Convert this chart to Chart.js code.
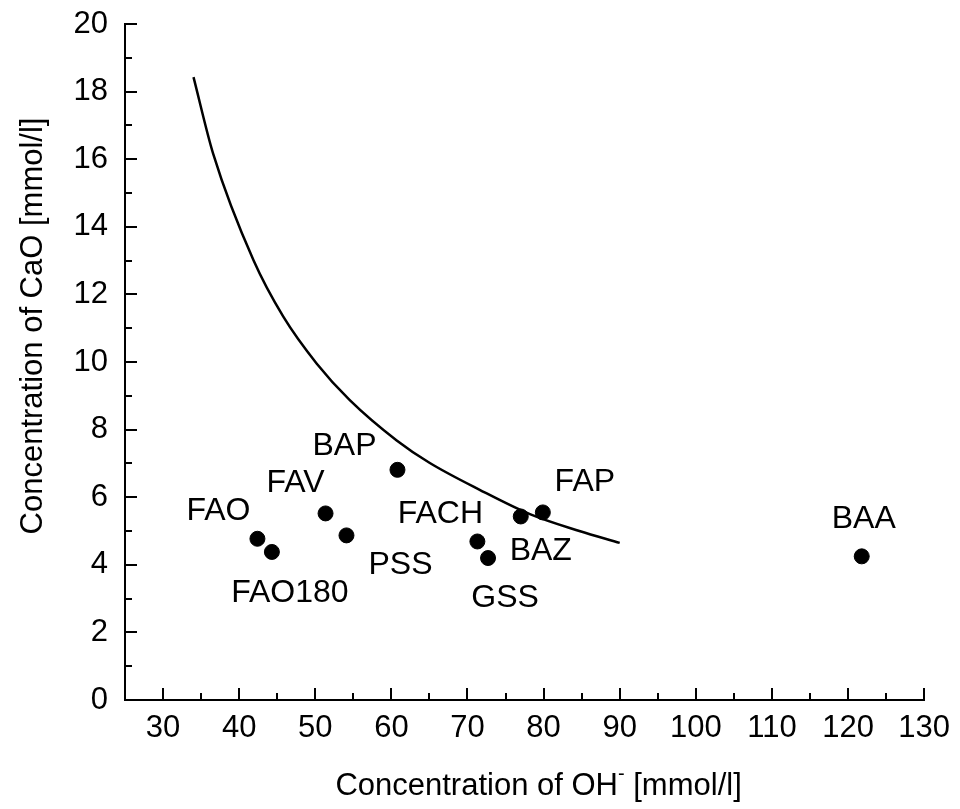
<!DOCTYPE html>
<html>
<head>
<meta charset="utf-8">
<script src="https://cdn.jsdelivr.net/npm/chart.js@4.4.1/dist/chart.umd.min.js"></script>
<style>
html, body { margin: 0; padding: 0; background: #fff; }
#wrap { width: 960px; height: 809px; }
</style>
</head>
<body>
<div id="wrap"><canvas id="chart"></canvas></div>
<script>
// samples (OH- vs CaO concentration, mmol/l)
const sampleNames = ["FAO", "FAO180", "FAV", "PSS", "BAP", "FACH", "GSS", "BAZ", "FAP", "BAA"];
const ohValues = [42.4, 44.3, 51.35, 54.1, 60.8, 71.3, 72.7, 77.0, 79.9, 121.8];
const caoValues = [4.77, 4.38, 5.52, 4.87, 6.81, 4.69, 4.20, 5.43, 5.55, 4.25];

// solubility curve
const curveOh = [34, 36.6, 41.9, 45.8, 50.2, 54.5, 60.7, 65, 71.6, 78.2, 84.7, 90];
const curveCao = [18.43, 16.15, 13.0, 11.34, 9.95, 8.88, 7.68, 7.02, 6.22, 5.5, 5.0, 4.65];

const xTicks = [30, 40, 50, 60, 70, 80, 90, 100, 110, 120, 130];
const yTicks = [0, 2, 4, 6, 8, 10, 12, 14, 16, 18, 20];

const FONT = "'Liberation Sans', Arial, sans-serif";

// label offsets from the dot (px, centre of the caps)
const labelOffsets = {
	FAO: [-39, -30],
	FAO180: [18, 39],
	FAV: [-30, -33],
	PSS: [54, 27],
	BAP: [-53, -26],
	FACH: [-37, -30],
	GSS: [17, 37],
	BAZ: [20, 32],
	FAP: [42, -33],
	BAA: [2, -40]
};

// ticks point into the plot, minor ones shorter
const innerTicks = {
	id: "innerTicks",
	afterDraw(chart) {
		const { ctx, scales: { x, y } } = chart;
		ctx.save();
		ctx.strokeStyle = "#000";
		ctx.lineWidth = 2;
		ctx.beginPath();
		for (let v = 30; v <= 130; v += 5) {
			const px = Math.round(x.getPixelForValue(v));
			const len = v % 10 === 0 ? 12 : 7;
			ctx.moveTo(px, y.bottom);
			ctx.lineTo(px, y.bottom - len);
		}
		for (let v = 1; v <= 20; v += 1) {
			const py = Math.round(y.getPixelForValue(v));
			const len = v % 2 === 0 ? 12 : 7;
			ctx.moveTo(x.left, py);
			ctx.lineTo(x.left + len, py);
		}
		ctx.stroke();
		ctx.restore();
	}
};

const pointLabels = {
	id: "pointLabels",
	afterDatasetsDraw(chart) {
		const { ctx } = chart;
		const meta = chart.getDatasetMeta(1);
		ctx.save();
		ctx.fillStyle = "#000";
		ctx.font = "32px " + FONT;
		ctx.textAlign = "center";
		ctx.textBaseline = "alphabetic";
		meta.data.forEach((pt, i) => {
			const name = sampleNames[i];
			const off = labelOffsets[name];
			ctx.fillText(name, pt.x + off[0], pt.y + off[1] + 11.5);
		});
		ctx.restore();
	}
};

const axisTitles = {
	id: "axisTitles",
	afterDraw(chart) {
		const { ctx, chartArea } = chart;
		ctx.save();
		ctx.fillStyle = "#000";
		ctx.textBaseline = "alphabetic";
		ctx.textAlign = "left";

		// x title with superscript minus
		const big = "31px " + FONT;
		const small = "20px " + FONT;
		const a = "Concentration of OH";
		const b = "-";
		const c = " [mmol/l]";
		ctx.font = big;
		const wa = ctx.measureText(a).width;
		const wc = ctx.measureText(c).width;
		ctx.font = small;
		const wb = ctx.measureText(b).width;
		const cx = (chartArea.left + chartArea.right) / 2 + 14;
		let sx = cx - (wa + wb + wc) / 2;
		const by = 795;
		ctx.font = big;
		ctx.fillText(a, sx, by);
		ctx.font = small;
		ctx.fillText(b, sx + wa, by - 15);
		ctx.font = big;
		ctx.fillText(c, sx + wa + wb, by);

		// y title
		ctx.translate(42, 326);
		ctx.rotate(-Math.PI / 2);
		ctx.textAlign = "center";
		ctx.font = big;
		ctx.fillText("Concentration of CaO [mmol/l]", 0, 0);
		ctx.restore();
	}
};

const tickFont = { family: FONT, size: 31 };

new Chart(document.getElementById("chart"), {
	type: "scatter",
	data: {
		datasets: [
			{
				type: "line",
				data: curveOh.map((v, i) => ({ x: v, y: curveCao[i] })),
				borderColor: "#000",
				borderWidth: 2.5,
				pointRadius: 0,
				fill: false,
				cubicInterpolationMode: "monotone"
			},
			{
				data: ohValues.map((v, i) => ({ x: v, y: caoValues[i] })),
				backgroundColor: "#000",
				borderColor: "#000",
				pointRadius: 7.5,
				pointHoverRadius: 7.5
			}
		]
	},
	options: {
		responsive: true,
		maintainAspectRatio: false,
		animation: false,
		layout: {
			padding: { left: 0, right: 35, top: 24, bottom: 0 }
		},
		scales: {
			x: {
				type: "linear",
				min: 25,
				max: 130,
				afterBuildTicks: (s) => { s.ticks = xTicks.map((v) => ({ value: v })); },
				afterFit: (s) => { s.height = 109; },
				grid: { display: false, drawTicks: false },
				border: { display: true, color: "#000", width: 2 },
				ticks: { color: "#000", font: tickFont, padding: 10, maxRotation: 0 }
			},
			y: {
				type: "linear",
				min: 0,
				max: 20,
				afterBuildTicks: (s) => { s.ticks = yTicks.map((v) => ({ value: v })); },
				afterFit: (s) => {
					s.width = 125;
					s.paddingTop = 0;
					s.paddingBottom = 0;
				},
				grid: { display: false, drawTicks: false },
				border: { display: true, color: "#000", width: 2 },
				ticks: { color: "#000", font: tickFont, padding: 17 }
			}
		},
		plugins: {
			legend: { display: false },
			tooltip: { enabled: false }
		}
	},
	plugins: [innerTicks, pointLabels, axisTitles]
});
</script>
</body>
</html>
